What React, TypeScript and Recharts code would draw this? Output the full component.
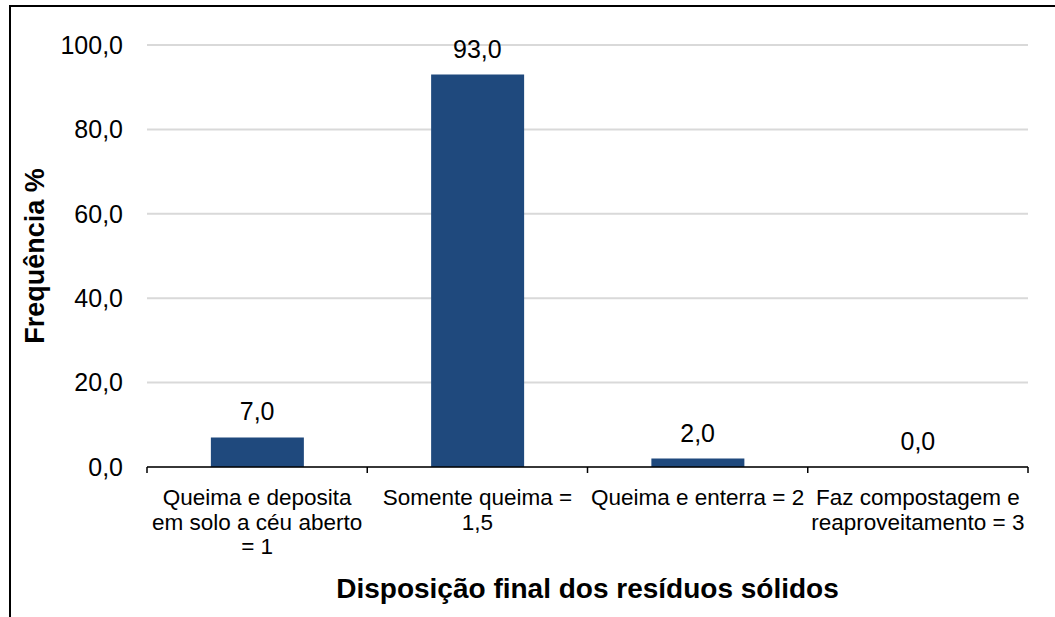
import { Bar, CartesianGrid, ComposedChart, Label, LabelList, Line, XAxis, YAxis } from "recharts";

const categories = [
	"Queima e deposita\nem solo a céu aberto\n= 1",
	"Somente queima =\n1,5",
	"Queima e enterra = 2",
	"Faz compostagem e\nreaproveitamento = 3",
];
const frequencia = [7.0, 93.0, 2.0, 0.0];
const yTicks = [0, 20, 40, 60, 80, 100];

const data = categories.map((c, i) => ({ categoria: c, frequencia: frequencia[i] }));

const W = 1055;
const H = 617;
const margin = { top: 45, right: 27, left: 10, bottom: 19 };
const Y_AXIS_W = 137;
const X_AXIS_H = 131;
const FONT = '"Liberation Sans", Arial, sans-serif';

// Excel-style numbers: one decimal, comma separator
const fmt = (v: number) => Number(v).toFixed(1).replace(".", ",");

const band = (W - margin.left - margin.right - Y_AXIS_W) / categories.length;

const CategoryTick = (props: any) => {
	const { x, y, payload, index } = props;
	const lines = String(payload.value).split("\n");
	const half = band / 2;
	return (
		<g>
			<line x1={x - half} x2={x - half} y1={y} y2={y + 6} stroke="#000" strokeWidth={1.5} />
			{index === categories.length - 1 && (
				<line x1={x + half} x2={x + half} y1={y} y2={y + 6} stroke="#000" strokeWidth={1.5} />
			)}
			<text x={x} y={y + 38} textAnchor="middle" fontSize={22.5} fontFamily={FONT} fill="#000">
				{lines.map((l, i) => (
					<tspan key={i} x={x} dy={i === 0 ? 0 : 24.5}>
						{l}
					</tspan>
				))}
			</text>
		</g>
	);
};

const App = () => {
	return (
		<div style={{ position: "absolute", left: 0, top: 0, width: W, height: H, background: "#fff" }}>
			<div
				style={{
					position: "absolute",
					left: 9,
					top: 5,
					width: W - 9,
					height: H - 5,
					borderTop: "2px solid #000",
					borderLeft: "2px solid #000",
					boxSizing: "border-box",
				}}
			/>
			<div style={{ position: "absolute", left: 0, top: 0 }}>
				<ComposedChart width={W} height={H} data={data} margin={margin} barCategoryGap="29%">
					<CartesianGrid vertical={false} stroke="#D9D9D9" strokeWidth={2} />
					<XAxis
						dataKey="categoria"
						height={X_AXIS_H}
						interval={0}
						tickSize={0}
						tickMargin={0}
						tickLine={false}
						axisLine={{ stroke: "#000", strokeWidth: 1.5 }}
						tick={<CategoryTick />}
					>
						<Label
							value="Disposição final dos resíduos sólidos"
							position="insideBottom"
							offset={0}
							style={{ fontWeight: "bold", fontSize: 28, fill: "#000", fontFamily: FONT }}
						/>
					</XAxis>
					<YAxis
						width={Y_AXIS_W}
						domain={[0, 100]}
						ticks={yTicks}
						tickFormatter={fmt}
						axisLine={false}
						tickLine={false}
						tickSize={0}
						tickMargin={24}
						tick={{ fill: "#000", fontSize: 25, fontFamily: FONT }}
					>
						<Label
							value="Frequência %"
							angle={-90}
							position="insideLeft"
							offset={24}
							style={{ fontWeight: "bold", fontSize: 27, fill: "#000", fontFamily: FONT, textAnchor: "middle" }}
						/>
					</YAxis>
					<Bar dataKey="frequencia" fill="#1F497D" isAnimationActive={false} />
					{/* invisible line only carries the value labels, so 0,0 also shows */}
					<Line
						dataKey="frequencia"
						stroke="none"
						dot={false}
						activeDot={false}
						legendType="none"
						isAnimationActive={false}
					>
						<LabelList
							dataKey="frequencia"
							position="top"
							offset={17}
							formatter={(v: any) => fmt(v)}
							style={{ fill: "#000", fontSize: 25, fontFamily: FONT }}
						/>
					</Line>
				</ComposedChart>
			</div>
		</div>
	);
};

export default App;
